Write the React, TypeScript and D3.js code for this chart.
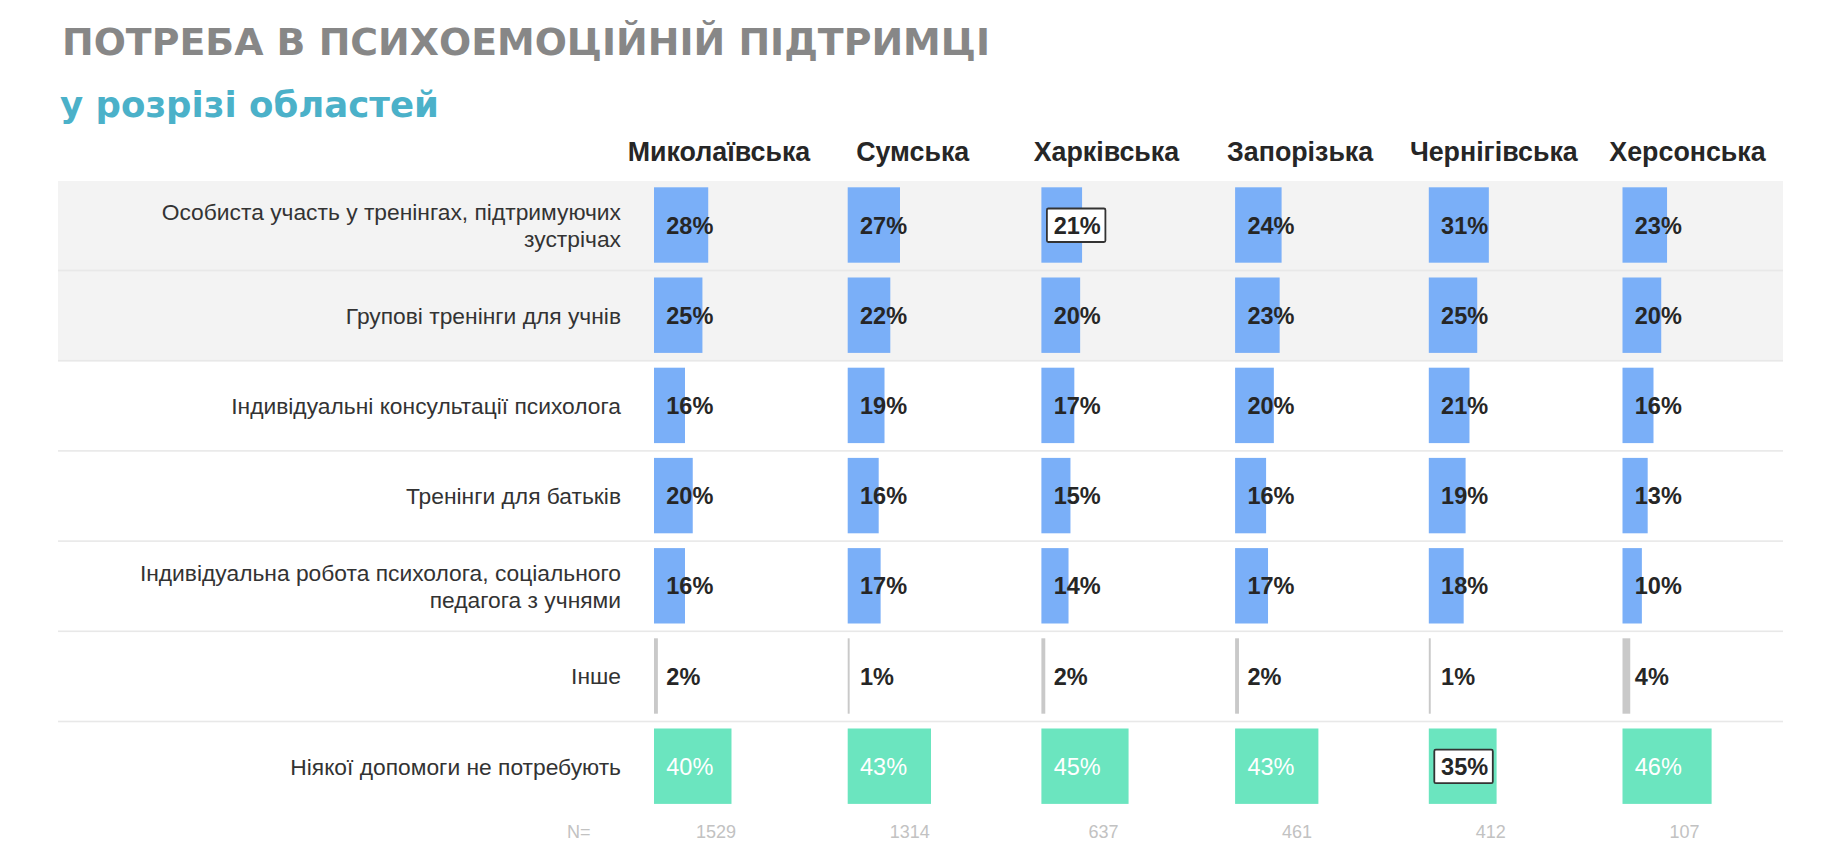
import { useEffect } from "react"
import * as d3 from "d3"

const regions = ["Миколаївська", "Сумська", "Харківська", "Запорізька", "Чернігівська", "Херсонська"]
const sampleSizes = [1529, 1314, 637, 461, 412, 107]

const categories = [
  ["Особиста участь у тренінгах, підтримуючих", "зустрічах"],
  ["Групові тренінги для учнів"],
  ["Індивідуальні консультації психолога"],
  ["Тренінги для батьків"],
  ["Індивідуальна робота психолога, соціального", "педагога з учнями"],
  ["Інше"],
  ["Ніякої допомоги не потребують"],
]

const personalTrainings = [28, 27, 21, 24, 31, 23]
const groupTrainings = [25, 22, 20, 23, 25, 20]
const individualConsults = [16, 19, 17, 20, 21, 16]
const parentTrainings = [20, 16, 15, 16, 19, 13]
const individualWork = [16, 17, 14, 17, 18, 10]
const other = [2, 1, 2, 2, 1, 4]
const noHelp = [40, 43, 45, 43, 35, 46]

const values = [personalTrainings, groupTrainings, individualConsults, parentTrainings, individualWork, other, noHelp]

// cells whose label is shown in a framed box (row, column)
const boxed = [
  [0, 2],
  [6, 4],
]

const W = 1832
const H = 862
const FONT = "'Liberation Sans', Arial, sans-serif"

export default function App() {
  useEffect(() => {
    document.body.style.margin = "0"
  }, [])

  const colStep = 193.7
  const x = d3
    .scaleBand<string>()
    .domain(regions)
    .range([654, 654 + colStep * regions.length])
  const w = d3.scaleLinear().domain([0, 100]).range([0, colStep])

  const rowStep = 90.2
  const y = d3
    .scaleBand<number>()
    .domain(d3.range(categories.length))
    .range([181, 181 + rowStep * categories.length])

  const barColor = (i: number) => (i === 5 ? "#c9c9c9" : i === 6 ? "#6be5bf" : "#7aaff8")
  const isBoxed = (r: number, c: number) => boxed.some(([br, bc]) => br === r && bc === c)

  return (
    <svg width={W} height={H} style={{ display: "block", background: "#fff" }}>
      {/* title */}
      <text
        x={62}
        y={55}
        fontFamily="'DejaVu Sans', sans-serif"
        fontWeight="bold"
        fontSize={38}
        fill="#878787"
        textLength={928}
        lengthAdjust="spacingAndGlyphs"
      >
        ПОТРЕБА В ПСИХОЕМОЦІЙНІЙ ПІДТРИМЦІ
      </text>
      <text
        x={60}
        y={117}
        fontFamily="'DejaVu Sans', sans-serif"
        fontWeight="bold"
        fontSize={35}
        fill="#4bb1c9"
        textLength={379}
        lengthAdjust="spacingAndGlyphs"
      >
        у розрізі областей
      </text>

      {/* shaded band behind first two rows */}
      <rect x={58} y={y(0)!} width={1783 - 58} height={rowStep * 2} fill="#f3f3f3" />

      {/* separators */}
      {categories.slice(0, -1).map((_, i) => (
        <rect key={i} x={58} y={y(i)! + rowStep - 1.5} width={1783 - 58} height={1.6} fill="#e8e8e8" />
      ))}

      {/* column headers */}
      {regions.map((r) => (
        <text
          key={r}
          x={x(r)! + 65}
          y={160.7}
          textAnchor="middle"
          fontFamily={FONT}
          fontWeight="bold"
          fontSize={26.8}
          fill="#262626"
        >
          {r}
        </text>
      ))}

      {/* row labels */}
      {categories.map((lines, i) => {
        const cy = y(i)! + 44
        const first = lines.length === 1 ? cy + 8.3 : cy - 4.8
        return (
          <text key={i} textAnchor="end" fontFamily={FONT} fontSize={22.8} fill="#333">
            {lines.map((l, j) => (
              <tspan key={j} x={621} y={first + j * 26.5}>
                {l}
              </tspan>
            ))}
          </text>
        )
      })}

      {/* bars and value labels */}
      {values.map((row, i) =>
        row.map((v, c) => {
          const x0 = x(regions[c])!
          const top = y(i)! + 6.3
          const cy = top + 37.7
          const box = isBoxed(i, c)
          const white = i === 6 && !box
          return (
            <g key={`${i}-${c}`}>
              <rect x={x0} y={top} width={w(v)} height={75.4} fill={barColor(i)} />
              {box && (
                <rect x={x0 + 5.5} y={cy - 16.5} width={58.5} height={33.5} rx={1.5} fill="#fff" stroke="#333" strokeWidth={1.8} />
              )}
              <text
                x={x0 + 12.3}
                y={cy + 8.6}
                fontFamily={FONT}
                fontWeight={white ? "normal" : "bold"}
                fontSize={23.5}
                fill={white ? "#fff" : "#262626"}
              >
                {v}%
              </text>
            </g>
          )
        })
      )}

      {/* sample sizes */}
      <text x={567} y={838} fontFamily={FONT} fontSize={18} fill="#c2c2c2">
        N=
      </text>
      {sampleSizes.map((n, c) => (
        <text key={c} x={x(regions[c])! + 62} y={838} textAnchor="middle" fontFamily={FONT} fontSize={18} fill="#c2c2c2">
          {n}
        </text>
      ))}
    </svg>
  )
}
